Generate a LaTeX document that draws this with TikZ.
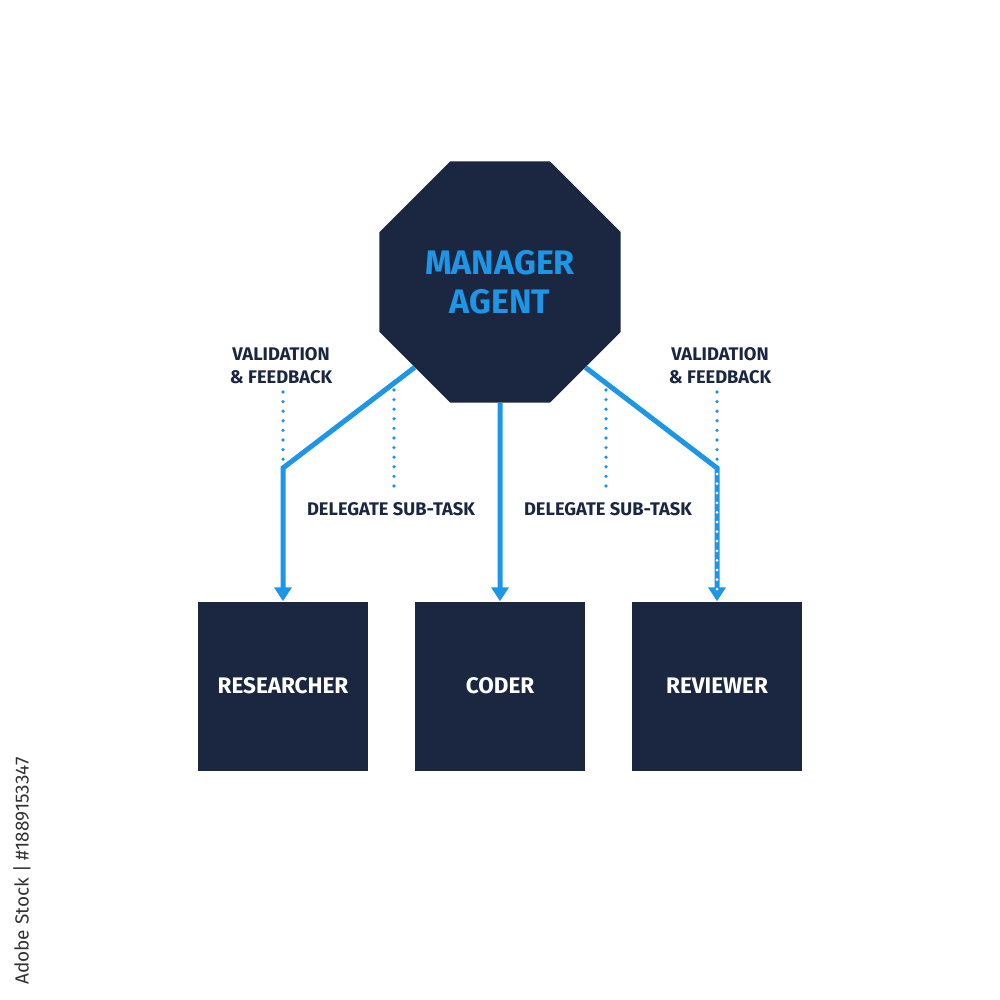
\documentclass[tikz,border=0pt]{standalone}
\usepackage{fontspec}
\setmainfont{Fira Sans}
\setsansfont{Fira Sans}
\usetikzlibrary{shapes.geometric,arrows.meta,calc}
\definecolor{navy}{HTML}{1B2740}
\definecolor{skyblue}{HTML}{1E96E8}
\definecolor{lbl}{HTML}{1B2740}
\begin{document}
\begin{tikzpicture}[x=1pt,y=-1pt,
  agentbox/.style={fill=navy,draw=none,minimum width=170pt,minimum height=169pt,inner sep=0pt,
    text=white,font=\fontsize{22.5}{25}\selectfont\bfseries},
  flow/.style={draw=skyblue,line width=5pt,line join=miter,-{Triangle[width=17pt,length=14pt]}},
  dots/.style={draw=skyblue,line width=3.6pt,line cap=round,dash pattern=on 0pt off 9.6pt},
  wdots/.style={draw=white,line width=3pt,line cap=round,dash pattern=on 0pt off 9.6pt},
  tag/.style={text=lbl,font=\fontsize{18.3}{23}\selectfont\bfseries,align=center,inner sep=0pt}]
\useasboundingbox[fill=white] (0,0) rectangle (1000,1000);
% manager
\node[regular polygon,regular polygon sides=8,shape border rotate=0,minimum size=261pt,
  inner sep=0pt,fill=navy,text=skyblue,align=center,
  font=\fontsize{34}{39}\selectfont\bfseries] (mgr) at (500,282) {MANAGER\\AGENT};
% agents
\node[agentbox] (res) at (283,686) {RESEARCHER};
\node[agentbox] (cod) at (500,686) {CODER};
\node[agentbox] (rev) at (717,686) {REVIEWER};
% bends
\coordinate (lb) at (283,468);
\coordinate (rb) at (717,468);
% dotted guides
\coordinate (vl1) at (283,392); \coordinate (vl2) at (283,462);
\coordinate (dl1) at (394,390); \coordinate (dl2) at (394,494);
\coordinate (dr1) at (606,390); \coordinate (dr2) at (606,494);
\coordinate (vr1) at (717,392); \coordinate (vr2) at (717,462);
\coordinate (vr3) at (717,474); \coordinate (vr4) at (717,590);
\draw[dots] (vl1) -- (vl2);
\draw[dots] (dl1) -- (dl2);
\draw[dots] (dr1) -- (dr2);
\draw[dots] (vr1) -- (vr2);
% flows
\draw[flow] (mgr.-135) -- (lb) -- (res.north);
\draw[flow] (mgr.south) -- (cod.north);
\draw[flow] (mgr.-45) -- (rb) -- (rev.north);
\draw[wdots] (vr3) -- (vr4);
% labels
\node[tag] (tvl) at (281,366) {VALIDATION\\\& FEEDBACK};
\node[tag] (tvr) at (720,366) {VALIDATION\\\& FEEDBACK};
\node[tag] (tdl) at (391,509) {DELEGATE SUB-TASK};
\node[tag] (tdr) at (608,509) {DELEGATE SUB-TASK};
% stock id
\node[rotate=90,text=black!80,font=\fontsize{19}{22}\selectfont,inner sep=0pt] (sid) at (22,871) {Adobe Stock | \#1889153347};
\end{tikzpicture}
\end{document}
